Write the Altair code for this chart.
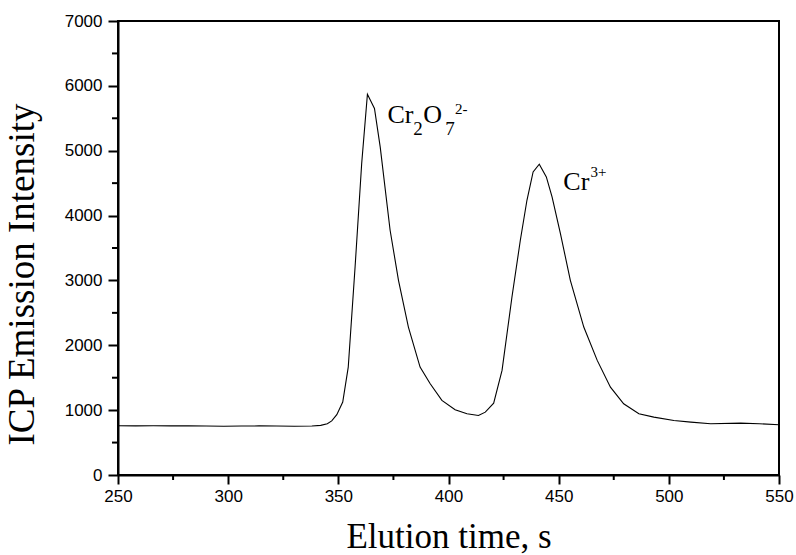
import altair as alt
import pandas as pd

# Elution curve (time in s, ICP emission intensity)
time_s = [250, 258, 266, 274, 282, 290, 298, 306, 314, 322, 330, 338, 342, 345, 347,
          349.3, 352, 354.5, 357.6, 360.6, 363.2, 366.4, 369, 373.5, 377.3, 381.8,
          387.1, 391.7, 397, 403, 408.4, 413.6, 416.7, 420.5, 424.3, 428.8, 432.6,
          435.6, 438.4, 441.2, 444.4, 447, 450.8, 455.3, 461.4, 467.5, 473.5, 479.5,
          486.4, 493.2, 502.3, 510, 519, 532.6, 541, 550]
intensity = [760, 757, 760, 758, 757, 756, 752, 755, 757, 756, 752, 755, 765, 790, 835,
             930, 1124, 1664, 3207, 4802, 5872, 5651, 5059, 3773, 3001, 2281,
             1664, 1407, 1150, 1006, 944, 918, 969, 1108, 1613, 2744, 3619,
             4236, 4673, 4792, 4596, 4287, 3722, 3001, 2281, 1767, 1355, 1099,
             944, 892, 841, 815, 790, 800, 790, 775]

x_major = [250, 300, 350, 400, 450, 500, 550]
x_minor = [275, 325, 375, 425, 475, 525]
y_major = [0, 1000, 2000, 3000, 4000, 5000, 6000, 7000]
y_minor = [500, 1500, 2500, 3500, 4500, 5500, 6500]

# Peak labels: text pieces, anchor (time, intensity), font size
label_text = ["Cr", "2", "O", "7", "2-", "Cr", "3+"]
label_t = [372.3, 384.0, 388.5, 398.5, 403.0, 452.1, 464.4]
label_v = [5420, 5239, 5420, 5239, 5571, 4390, 4591]
label_size = [26, 19, 26, 19, 15, 26, 15]

W, H = 661, 454
df = pd.DataFrame({"t": time_s, "v": intensity})
lab = pd.DataFrame({"text": label_text, "t": label_t, "v": label_v, "size": label_size})

xs = alt.Scale(domain=[250, 550], nice=False, zero=False)
ys = alt.Scale(domain=[0, 7000], nice=False)

serif = "Liberation Serif"
sans = "Liberation Sans"

xaxis = alt.Axis(
    values=x_major, format="d", title="Elution time, s", titleFont=serif, titleFontSize=35,
    titleFontWeight="normal", titleColor="black", titleY=72, titleBaseline="alphabetic",
    labelFont=sans, labelFontSize=17, labelColor="black", labelPadding=4,
    tickSize=9, tickWidth=2, tickColor="black", domainColor="black", domainWidth=2,
    grid=False, labelFlush=False)
yaxis = alt.Axis(
    values=y_major, format="d", title="ICP Emission Intensity", titleFont=serif,
    titleFontSize=37, titleFontWeight="normal", titleColor="black", titleX=-85, titleY=253,
    titleAngle=-90, titleAlign="center", titleBaseline="alphabetic",
    labelFont=sans, labelFontSize=17, labelColor="black", labelPadding=6,
    tickSize=10, tickWidth=2, tickColor="black", domainColor="black", domainWidth=2,
    grid=False, labelFlush=False)

line = alt.Chart(df).mark_line(color="black", strokeWidth=1.1).encode(
    x=alt.X("t:Q", scale=xs, axis=xaxis),
    y=alt.Y("v:Q", scale=ys, axis=yaxis),
)

xminor = alt.Chart(pd.DataFrame({"t": x_minor})).mark_rule(color="black", strokeWidth=2).encode(
    x=alt.X("t:Q", scale=xs, axis=xaxis),
    y=alt.value(H), y2=alt.value(H + 5),
)
yminor = alt.Chart(pd.DataFrame({"v": y_minor})).mark_rule(color="black", strokeWidth=2).encode(
    y=alt.Y("v:Q", scale=ys, axis=yaxis),
    x=alt.value(-6), x2=alt.value(0),
)

labels = alt.Chart(lab).mark_text(font=serif, color="black", align="left",
                                  baseline="alphabetic").encode(
    x=alt.X("t:Q", scale=xs, axis=xaxis),
    y=alt.Y("v:Q", scale=ys, axis=yaxis),
    text="text:N",
    size=alt.Size("size:Q", scale=None, legend=None),
)

chart = alt.layer(line, xminor, yminor, labels).properties(
    width=W, height=H,
    background="white",
    padding={"left": 118, "top": 21, "right": 17, "bottom": 80},
    autosize=alt.AutoSizeParams(type="none"),
).configure_view(stroke="black", strokeWidth=2)

chart.save("out.html", embed_options={"renderer": "svg", "actions": False})
